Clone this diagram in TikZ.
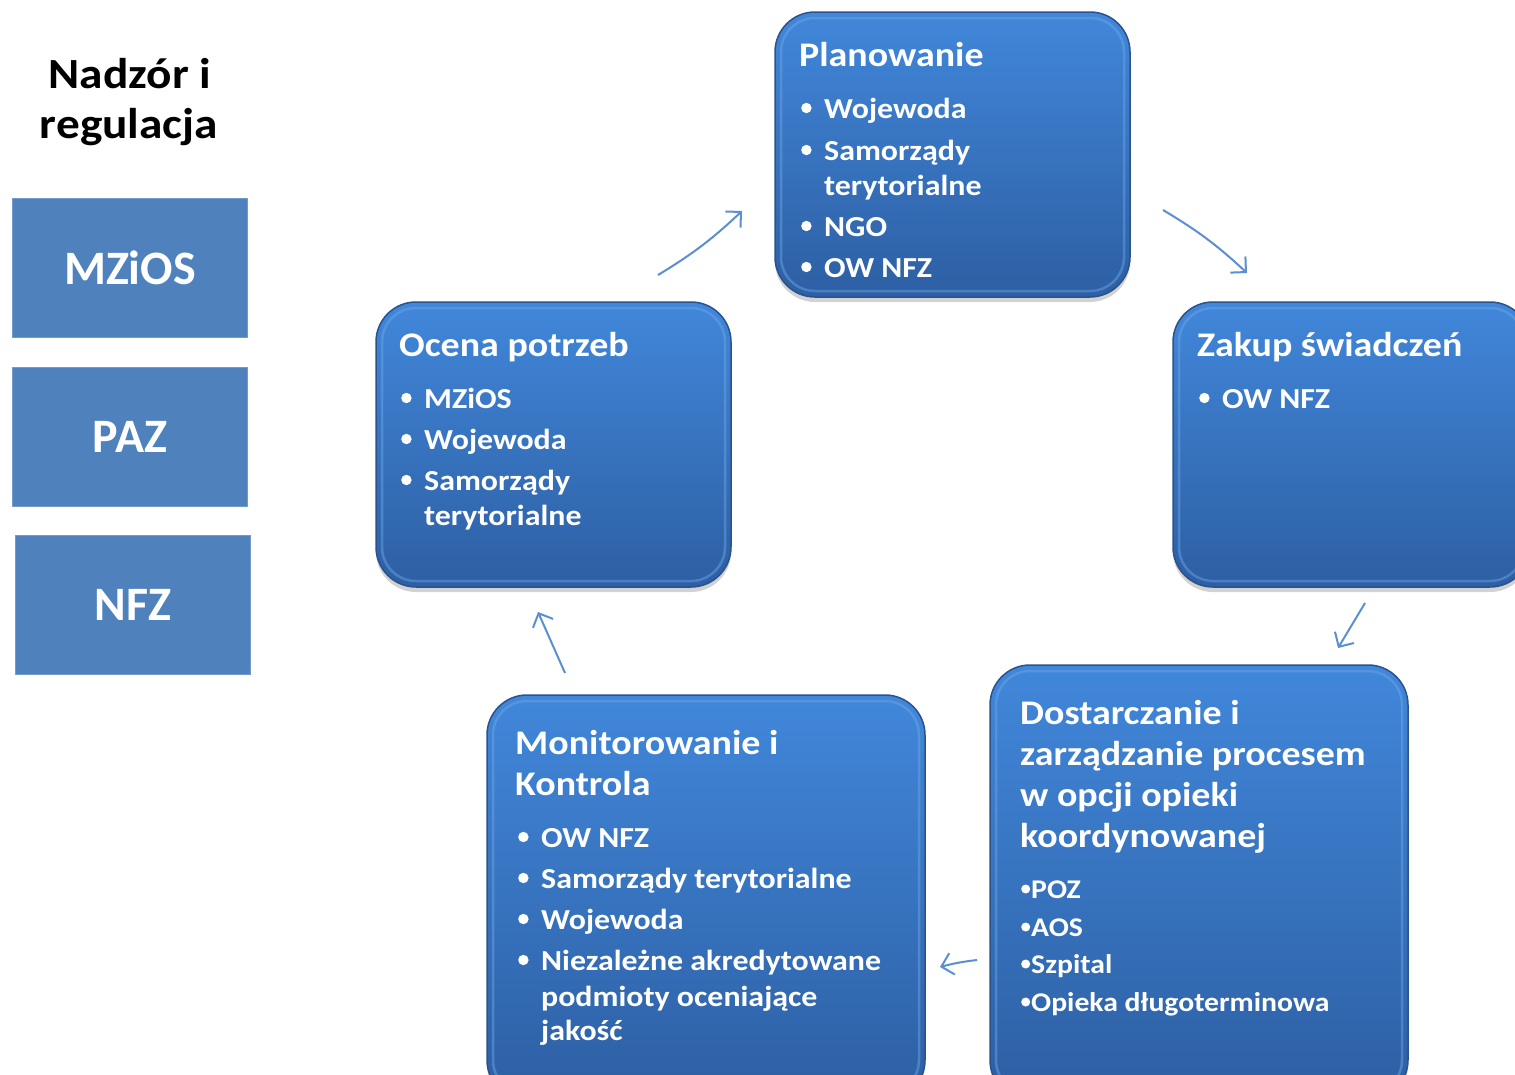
\documentclass[tikz,border=0pt]{standalone}
\usepackage{fontspec}
\setmainfont{Carlito}
\newfontfamily\wide{Carlito}[FakeStretch=1.1]
\usetikzlibrary{arrows.meta,shadows}
\definecolor{sqblue}{HTML}{4F81BD}
\definecolor{btop}{HTML}{4187DA}
\definecolor{bbot}{HTML}{2D5FA3}
\definecolor{bedge}{HTML}{2A528C}
\definecolor{brim}{HTML}{6FA8EA}
\definecolor{arr}{HTML}{5A8FD2}
\tikzset{
  sq/.style={fill=sqblue, draw=sqblue!80!white, line width=0.8pt},
  sqtxt/.style={text=white, font=\fontsize{48}{52}\selectfont\bfseries, inner sep=0},
  rbox/.style={rounded corners=40pt, top color=btop, bottom color=bbot, draw=bedge, line width=1.5pt,
     drop shadow={opacity=0.35, shadow xshift=0pt, shadow yshift=-5pt}},
  rim/.style={rounded corners=34pt, draw=brim, line width=2.5pt, opacity=0.45},
  ttl/.style={anchor=base west, text=white, inner sep=0, font=\wide\fontsize{34.5}{40}\selectfont\bfseries},
  itm/.style={anchor=base west, text=white, inner sep=0, font=\wide\fontsize{29}{34}\selectfont\bfseries},
  sit/.style={anchor=base west, text=white, inner sep=0, font=\wide\fontsize{27}{32}\selectfont\bfseries},
  conn/.style={draw=arr, line width=2pt, -{Straight Barb[length=11pt,width=22pt,line width=2pt]}},
  head/.style={text=black, inner sep=0, font=\wide\fontsize{43}{50}\selectfont\bfseries}
}
\newcommand{\dotb}[2]{\raisebox{#2}{\tikz[baseline={(0,0)}]\fill[white] (0,0) circle (#1);}}
\newcommand{\bul}{\makebox[24pt][l]{\hspace{1pt}\dotb{5.2pt}{10pt}}}
\begin{document}
\begin{tikzpicture}[x=1pt,y=-1pt]
\useasboundingbox (0,0) rectangle (1515,1074);
\clip (0,0) rectangle (1515,1074);
\fill[white] (0,0) rectangle (1515,1074);

% heading
\node[head, anchor=base] (h1) at (130,88) {Nadzór i};
\node[head, anchor=base] (h2) at (129,138) {regulacja};

% left squares
\draw[sq] (12,198) rectangle (247,337);
\node[sqtxt] (mz) at (130,268) {MZiOS};
\draw[sq] (12,367) rectangle (247,506);
\node[sqtxt] (paz) at (130,437) {PAZ};
\draw[sq] (15,535) rectangle (250,674);
\node[sqtxt] (nfz) at (133,605) {NFZ};

% rounded boxes
\draw[rbox] (775,12) rectangle (1130,297);
\draw[rim] (781,18) rectangle (1124,291);
\draw[rbox] (1173,302) rectangle (1530,587);
\draw[rim] (1179,308) rectangle (1524,581);
\draw[rbox] (376,302) rectangle (731,587);
\draw[rim] (382,308) rectangle (725,581);
\draw[rbox] (990,665) rectangle (1408,1100);
\draw[rim] (996,671) rectangle (1402,1094);
\draw[rbox] (487,695) rectangle (925,1100);
\draw[rim] (493,701) rectangle (919,1094);

% Planowanie
\node[ttl] (pt) at (799,66) {Planowanie};
\node[itm] (p1) at (800,118) {\bul Wojewoda};
\node[itm] (p2) at (800,160) {\bul Samorządy};
\node[itm] (p3) at (824,195) {terytorialne};
\node[itm] (p4) at (800,236) {\bul NGO};
\node[itm] (p5) at (800,277) {\bul OW NFZ};

% Zakup
\node[ttl] (zt) at (1197,356) {Zakup świadczeń};
\node[itm] (z1) at (1198,408) {\bul OW NFZ};

% Ocena
\node[ttl] (ot) at (399,356) {Ocena potrzeb};
\node[itm] (o1) at (400,408) {\bul MZiOS};
\node[itm] (o2) at (400,449) {\bul Wojewoda};
\node[itm] (o3) at (400,490) {\bul Samorządy};
\node[itm] (o4) at (424,525) {terytorialne};

% Dostarczanie
\node[ttl] (dt1) at (1020,724) {Dostarczanie i};
\node[ttl] (dt2) at (1020,765) {zarządzanie procesem};
\node[ttl] (dt3) at (1020,806) {w opcji opieki};
\node[ttl] (dt4) at (1020,847) {koordynowanej};
\node[sit] (d1) at (1021,898) {\dotb{4.5pt}{9pt}\hspace{1pt}POZ};
\node[sit] (d2) at (1021,936) {\dotb{4.5pt}{9pt}\hspace{1pt}AOS};
\node[sit] (d3) at (1021,973) {\dotb{4.5pt}{9pt}\hspace{1pt}Szpital};
\node[sit] (d4) at (1021,1011) {\dotb{4.5pt}{9pt}\hspace{1pt}Opieka długoterminowa};

% Monitorowanie
\node[ttl] (mt1) at (515,754) {Monitorowanie i};
\node[ttl] (mt2) at (515,795) {Kontrola};
\node[itm] (m1) at (517,847) {\bul OW NFZ};
\node[itm] (m2) at (517,888) {\bul Samorządy terytorialne};
\node[itm] (m3) at (517,929) {\bul Wojewoda};
\node[itm] (m4) at (517,970) {\bul Niezależne akredytowane};
\node[itm] (m5) at (541,1006) {podmioty oceniające};
\node[itm] (m6) at (541,1040) {jakość};

% arrows
\coordinate (a1s) at (658,275); \coordinate (a1e) at (742,211);
\coordinate (a2s) at (1163,210); \coordinate (a2e) at (1247,273);
\coordinate (a3s) at (1365,603); \coordinate (a3e) at (1338,648);
\coordinate (a4s) at (977,960); \coordinate (a4e) at (940,967);
\coordinate (a5s) at (565,673); \coordinate (a5e) at (538,612);
\draw[conn] (a1s) to[bend right=6] (a1e);
\draw[conn] (a2s) to[bend left=6] (a2e);
\draw[conn] (a3s) -- (a3e);
\draw[conn] (a4s) to[bend right=4] (a4e);
\draw[conn] (a5s) -- (a5e);
\end{tikzpicture}
\end{document}
